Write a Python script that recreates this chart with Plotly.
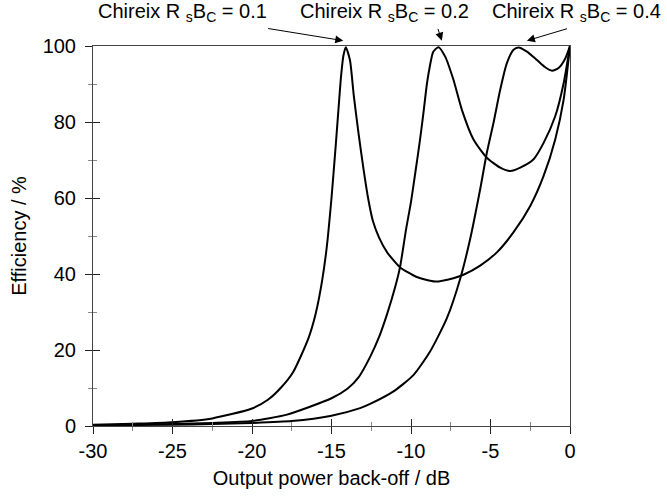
import plotly.graph_objects as go

# Curve data (output power back-off in dB, efficiency in %)
x_01 = [-30, -27.5, -25, -22.5, -20, -19.0, -18.2, -17.4, -16.46, -16.0, -15.6, -15.3, -15.0,
        -14.75, -14.55, -14.4, -14.25, -14.1, -13.84, -13.6, -13.3, -13.0, -12.7, -12.4,
        -12.0, -11.5, -10.7, -9.64, -8.48, -7.33, -6.7, -5.65, -4.6, -3.55, -2.5, -1.66,
        -0.93, -0.4, 0]
y_01 = [0.3, 0.6, 1.0, 2.0, 4.6, 6.9, 10.0, 14.3, 23.0, 29.5, 38.0, 47.0, 60.0,
        73.0, 84.0, 92.0, 97.5, 99.7, 96.3, 87.0, 77.0, 68.0, 60.0, 54.0,
        49.5, 45.7, 41.8, 39.2, 38.0, 38.9, 39.8, 42.2, 45.7, 51.0, 57.9, 65.8,
        75.4, 85.9, 100]

x_02 = [-30, -27.5, -25, -22.5, -20, -17.8, -15, -14, -13.3, -12.57, -12.0, -11.5, -11.0,
        -10.69, -10.3, -10.0, -9.7, -9.43, -9.2, -9.0, -8.8, -8.6, -8.27, -7.85, -7.33,
        -6.8, -6.07, -5.23, -4.39, -3.76, -3.13, -2.29, -1.66, -0.93, -0.4, 0]
y_02 = [0.2, 0.35, 0.5, 0.8, 1.3, 3.0, 7.3, 9.8, 12.8, 18.2, 23.5, 29.5, 36.5,
        41.8, 52.0, 59.0, 67.5, 75.4, 83.0, 90.0, 95.0, 98.5, 99.7, 97.2, 91.1,
        83.2, 75.4, 70.6, 68.0, 67.1, 68.0, 70.2, 74.5, 81.5, 90.2, 100]

x_04 = [-30, -27.5, -25, -22.5, -20, -17.5, -15, -13.2, -12.57, -11.1, -9.85, -8.8, -7.75,
        -6.91, -6.28, -5.65, -5.23, -4.81, -4.39, -3.97, -3.55, -3.24, -2.71, -2.08, -1.56,
        -1.13, -0.72, -0.29, 0]
y_04 = [0.15, 0.25, 0.35, 0.5, 0.8, 1.3, 2.7, 4.7, 5.8, 9.1, 13.4, 19.6, 28.3,
        38.7, 49.2, 62.3, 71.9, 79.8, 88.5, 95.5, 99.0, 99.6, 98.5, 96.3, 94.4,
        93.5, 94.2, 96.8, 100]

labels = ["Chireix R <sub>s</sub>B<sub>C</sub> = 0.1",
          "Chireix R <sub>s</sub>B<sub>C</sub> = 0.2",
          "Chireix R <sub>s</sub>B<sub>C</sub> = 0.4"]
peak_x = [-14.26, -8.06, -2.71]

x_ticks = [-30, -25, -20, -15, -10, -5, 0]
x_ticktext = ["-30", "-25", "-20", "-15", "-10", "-5", "0"]
y_ticks = [0, 20, 40, 60, 80, 100]
y_ticktext = ["0", "20", "40", "60", "80", "100"]

FONT = "Liberation Sans, Arial, sans-serif"
FS = 20

fig = go.Figure()
for xs, ys in [(x_01, y_01), (x_02, y_02), (x_04, y_04)]:
    fig.add_trace(go.Scatter(x=xs, y=ys, mode="lines",
                             line=dict(color="black", width=2, shape="spline", smoothing=0.6),
                             showlegend=False, hoverinfo="skip"))
# invisible trace to host the mirrored inner-tick axes
fig.add_trace(go.Scatter(x=[-30], y=[0], xaxis="x2", yaxis="y2", mode="markers",
                         marker=dict(opacity=0), showlegend=False, hoverinfo="skip"))

axis_common = dict(showgrid=False, zeroline=False)
fig.update_layout(
    width=667, height=497,
    margin=dict(l=93, r=97, t=46, b=69),
    plot_bgcolor="white", paper_bgcolor="white",
    font=dict(family=FONT, size=FS, color="black"),
    xaxis=dict(range=[-30, 0], tickvals=x_ticks, ticktext=x_ticktext, ticks="outside",
               ticklen=7, tickwidth=1,
               tickcolor="#222", showline=True, linecolor="#444", linewidth=1, mirror=True,
               minor=dict(ticks="outside", dtick=2.5, ticklen=4, tickcolor="#888", tickwidth=1),
               title=dict(text="Output power back-off / dB", standoff=9,
                          font=dict(family=FONT, size=FS)),
               tickfont=dict(family=FONT, size=FS), **axis_common),
    yaxis=dict(range=[0, 100], tickvals=y_ticks, ticktext=y_ticktext, ticks="outside",
               ticklen=7, tickwidth=1, ticklabelstandoff=5,
               tickcolor="#222", showline=True, linecolor="#444", linewidth=1, mirror=True,
               minor=dict(ticks="outside", dtick=10, ticklen=4, tickcolor="#888", tickwidth=1),
               title=dict(text="Efficiency / %", standoff=10,
                          font=dict(family=FONT, size=FS)),
               tickfont=dict(family=FONT, size=FS), **axis_common),
    xaxis2=dict(range=[-30, 0], overlaying="x", side="bottom", tickvals=x_ticks,
                ticks="inside", ticklen=7, tickwidth=1, tickcolor="#222",
                showticklabels=False, showline=False,
                minor=dict(ticks="inside", dtick=2.5, ticklen=4, tickcolor="#888", tickwidth=1),
                **axis_common),
    yaxis2=dict(range=[0, 100], overlaying="y", side="left", tickvals=y_ticks,
                ticks="inside", ticklen=7, tickwidth=1, tickcolor="#222",
                showticklabels=False, showline=False,
                minor=dict(ticks="inside", dtick=10, ticklen=4, tickcolor="#888", tickwidth=1),
                **axis_common),
)

# label texts
text_x = [0.187, 0.612, 1.013]
for lab, tx in zip(labels, text_x):
    fig.add_annotation(text=lab, xref="paper", yref="paper", x=tx, y=1.088,
                       xanchor="center", yanchor="middle", showarrow=False,
                       font=dict(family=FONT, size=FS, color="black"))

# arrows
tails = [(-76.6, -12.4), (-4.4, -13.3), (41.6, -12.4)]
for px, (ax, ay) in zip(peak_x, tails):
    fig.add_annotation(text="", x=px, y=1.014, xref="x", yref="paper",
                       ax=ax, ay=ay, showarrow=True, arrowhead=2, arrowsize=1.6,
                       arrowwidth=1, arrowcolor="black")

fig.write_html("out.html")
